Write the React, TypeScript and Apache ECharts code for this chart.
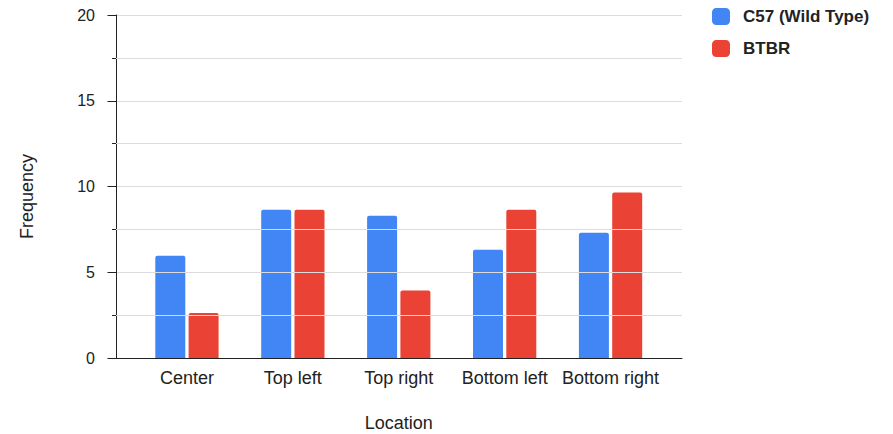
import React, { useEffect, useRef } from "react";
import * as echarts from "echarts";

const categories = ["Center", "Top left", "Top right", "Bottom left", "Bottom right"];
const wildTypeValues = [5.96, 8.64, 8.3, 6.31, 7.3];
const btbrValues = [2.62, 8.64, 3.94, 8.64, 9.65];
const seriesNames = ["C57 (Wild Type)", "BTBR"];
const yLabels = [0, 5, 10, 15, 20];

const FONT = "'Liberation Sans', Arial, sans-serif";
const TEXT = "#222222";
const GRID_LINE = "#dcdcdc";

export default function App() {
  const ref = useRef<HTMLDivElement>(null);

  useEffect(() => {
    if (!ref.current) return;
    const chart = echarts.init(ref.current, undefined, { renderer: "svg" });

    const yMax = yLabels[yLabels.length - 1];
    const majorStep = yLabels[1] - yLabels[0];
    const minorStep = majorStep / 2;
    // half-step gridlines between the labelled values
    const minorLevels = yLabels.slice(1).map((v) => v - minorStep);

    // tick-only axis layered on the frame axis, so ticks cross the axis line
    const tickAxis = (interval: number, inside: boolean, length: number) => ({
      type: "value",
      gridIndex: 0,
      position: "left",
      min: 0,
      max: yMax,
      interval,
      axisLine: { show: false },
      axisTick: { show: true, inside, length, lineStyle: { color: TEXT } },
      axisLabel: { show: false },
      splitLine: { show: false },
    });

    chart.setOption({
      animation: false,
      backgroundColor: "#ffffff",
      textStyle: { fontFamily: FONT },
      legend: {
        orient: "vertical",
        left: 712,
        top: 8,
        padding: 0,
        itemWidth: 18,
        itemHeight: 17,
        itemGap: 15,
        icon: "roundRect",
        data: seriesNames,
        textStyle: { fontFamily: FONT, fontSize: 17, fontWeight: "bold", color: TEXT, padding: [0, 0, 0, 8] },
      },
      grid: [
        { left: 116, right: 211, top: 15, bottom: 76, outerBoundsMode: "none", containLabel: false },
        { left: 134, right: 229.5, top: 15, bottom: 76, outerBoundsMode: "none", containLabel: false },
      ],
      xAxis: [
        {
          type: "value",
          gridIndex: 0,
          min: 0,
          max: 1,
          axisLine: { show: true, lineStyle: { color: TEXT, width: 1 } },
          axisTick: { show: false },
          axisLabel: { show: false },
          splitLine: { show: false },
          z: 5,
        },
        {
          type: "category",
          gridIndex: 1,
          data: categories,
          axisLine: { show: false },
          axisTick: { show: false },
          axisLabel: { color: TEXT, fontSize: 18, fontFamily: FONT, margin: 11, interval: 0 },
          name: "Location",
          nameLocation: "middle",
          nameGap: 56,
          nameTextStyle: { color: TEXT, fontSize: 18, fontFamily: FONT },
        },
      ],
      yAxis: [
        {
          type: "value",
          gridIndex: 0,
          position: "left",
          min: 0,
          max: yMax,
          interval: majorStep,
          axisLine: { show: true, lineStyle: { color: TEXT, width: 1 } },
          axisTick: { show: true, length: 8.5, lineStyle: { color: TEXT } },
          axisLabel: { color: TEXT, fontSize: 16, fontFamily: FONT, margin: 21 },
          splitLine: { show: true, lineStyle: { color: GRID_LINE } },
          name: "Frequency",
          nameLocation: "middle",
          nameGap: 80,
          nameTextStyle: { color: TEXT, fontSize: 18, fontFamily: FONT, padding: [0, 20, 0, 0] },
          z: 3,
        },
        tickAxis(minorStep, true, 4),
        tickAxis(minorStep, false, 4),
        tickAxis(majorStep, true, 8.5),
        {
          type: "value",
          gridIndex: 1,
          min: 0,
          max: yMax,
          show: false,
        },
      ],
      series: [
        {
          // carries the half-step gridlines across the full plot frame
          type: "line",
          xAxisIndex: 0,
          yAxisIndex: 0,
          data: [],
          silent: true,
          z: 0,
          markLine: {
            silent: true,
            symbol: ["none", "none"],
            label: { show: false },
            lineStyle: { color: GRID_LINE, type: "solid", width: 1 },
            emphasis: { disabled: true },
            data: minorLevels.map((v) => ({ yAxis: v })),
          },
        },
        {
          name: seriesNames[0],
          type: "bar",
          xAxisIndex: 1,
          yAxisIndex: 4,
          data: wildTypeValues,
          barWidth: 30,
          barGap: "11%",
          itemStyle: { color: "#4285f4", borderRadius: [2, 2, 0, 0] },
        },
        {
          name: seriesNames[1],
          type: "bar",
          xAxisIndex: 1,
          yAxisIndex: 4,
          data: btbrValues,
          barWidth: 30,
          barGap: "11%",
          itemStyle: { color: "#ea4335", borderRadius: [2, 2, 0, 0] },
        },
      ],
    });

    return () => chart.dispose();
  }, []);

  return (
    <div
      ref={ref}
      style={{ position: "fixed", left: 0, top: 0, width: 893, height: 434 }}
    />
  );
}
